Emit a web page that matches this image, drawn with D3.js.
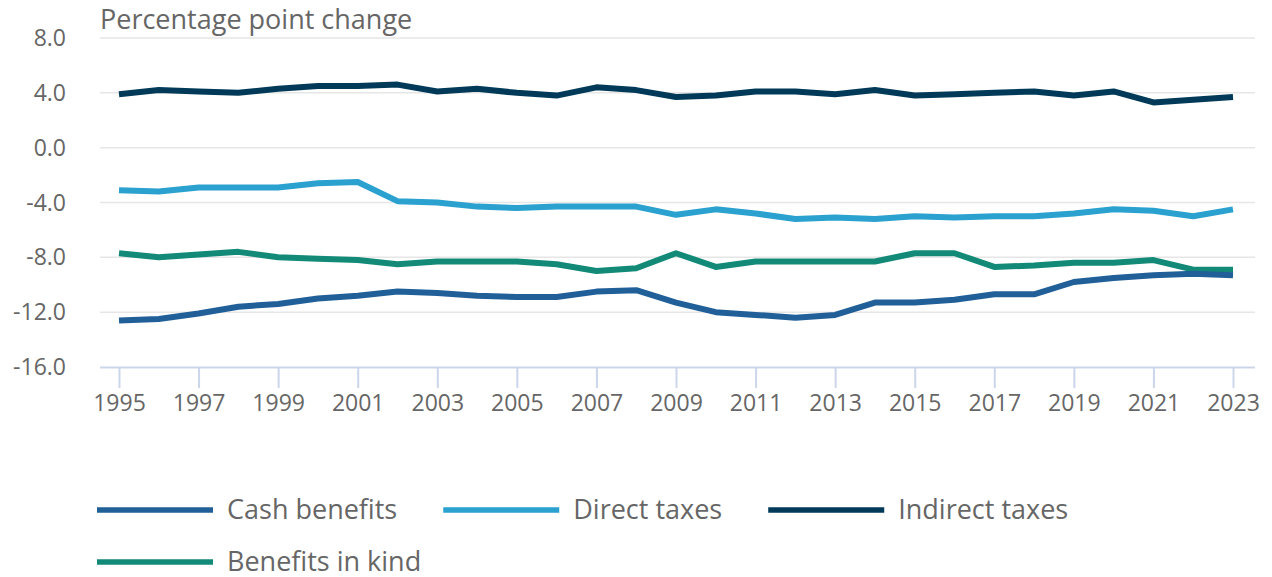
<!DOCTYPE html>
<html>
<head>
<meta charset="utf-8">
<script src="https://cdn.jsdelivr.net/npm/d3@7"></script>
<style>
  body { margin: 0; background: #fff; }
  text { font-family: "Open Sans", sans-serif; fill: #666; }
</style>
</head>
<body>
<div id="chart"></div>
<script>
const years = d3.range(1995, 2024);

const cashBenefits = [-12.6, -12.5, -12.1, -11.6, -11.4, -11.0, -10.8, -10.5, -10.6, -10.8,
  -10.9, -10.9, -10.5, -10.4, -11.3, -12.0, -12.2, -12.4, -12.2, -11.3,
  -11.3, -11.1, -10.7, -10.7, -9.8, -9.5, -9.3, -9.2, -9.3];
const directTaxes = [-3.1, -3.2, -2.9, -2.9, -2.9, -2.6, -2.5, -3.9, -4.0, -4.3,
  -4.4, -4.3, -4.3, -4.3, -4.9, -4.5, -4.8, -5.2, -5.1, -5.2,
  -5.0, -5.1, -5.0, -5.0, -4.8, -4.5, -4.6, -5.0, -4.5];
const indirectTaxes = [3.9, 4.2, 4.1, 4.0, 4.3, 4.5, 4.5, 4.6, 4.1, 4.3,
  4.0, 3.8, 4.4, 4.2, 3.7, 3.8, 4.1, 4.1, 3.9, 4.2,
  3.8, 3.9, 4.0, 4.1, 3.8, 4.1, 3.3, 3.5, 3.7];
const benefitsInKind = [-7.7, -8.0, -7.8, -7.6, -8.0, -8.1, -8.2, -8.5, -8.3, -8.3,
  -8.3, -8.5, -9.0, -8.8, -7.7, -8.7, -8.3, -8.3, -8.3, -8.3,
  -7.7, -7.7, -8.7, -8.6, -8.4, -8.4, -8.2, -8.9, -8.9];

const yTicks = [8, 4, 0, -4, -8, -12, -16];
const xTickYears = d3.range(1995, 2024, 2);

const series = [
  { name: "Cash benefits", values: cashBenefits, color: "#215f99" },
  { name: "Direct taxes", values: directTaxes, color: "#2aa1cf" },
  { name: "Indirect taxes", values: indirectTaxes, color: "#003a58" },
  { name: "Benefits in kind", values: benefitsInKind, color: "#128a77" }
];

const width = 1272, height = 577;
const plot = { left: 100, right: 1255, top: 38, bottom: 367 };

const svg = d3.select("#chart").append("svg")
    .attr("width", width)
    .attr("height", height);

const x = d3.scaleLinear()
    .domain([1995, 2023])
    .range([119, 1233]);

const y = d3.scaleLinear()
    .domain([-16, 8])
    .range([plot.bottom, plot.top]);

// gridlines
svg.append("g")
  .selectAll("line")
  .data(yTicks.filter(d => d !== -16))
  .join("line")
    .attr("x1", plot.left)
    .attr("x2", plot.right)
    .attr("y1", d => y(d))
    .attr("y2", d => y(d))
    .attr("stroke", "#e6e6e6")
    .attr("stroke-width", 1.5);

// y labels (plain hyphen for negatives, like the original)
svg.append("g")
  .selectAll("text")
  .data(yTicks)
  .join("text")
    .attr("x", 66)
    .attr("y", d => y(d) + 8)
    .attr("text-anchor", "end")
    .style("font-size", "23px")
    .text(d => d.toFixed(1));

// x axis
const xAxis = svg.append("g")
    .attr("transform", `translate(0,${plot.bottom})`)
    .call(d3.axisBottom(x)
      .tickValues(xTickYears)
      .tickFormat(d3.format("d"))
      .tickSize(21)
      .tickSizeOuter(0)
      .tickPadding(7));

xAxis.select(".domain")
    .attr("d", `M${plot.left},0.5H${plot.right}`)
    .attr("stroke", "#ccd6eb")
    .attr("stroke-width", 2);
xAxis.selectAll(".tick line")
    .attr("stroke", "#ccd6eb")
    .attr("stroke-width", 2);
xAxis.selectAll(".tick text")
    .attr("fill", "#666")
    .style("font-family", "'Open Sans', sans-serif")
    .style("font-size", "23px");

// title
svg.append("text")
    .attr("x", 100)
    .attr("y", 29)
    .style("font-size", "27px")
    .text("Percentage point change");

// lines
const line = d3.line()
    .x((d, i) => x(years[i]))
    .y(d => y(d));

// benefits in kind drawn under cash benefits at the right end
const drawOrder = [series[3], series[2], series[1], series[0]];
svg.append("g")
  .selectAll("path")
  .data(drawOrder)
  .join("path")
    .attr("d", d => line(d.values))
    .attr("fill", "none")
    .attr("stroke", d => d.color)
    .attr("stroke-width", 6)
    .attr("stroke-linejoin", "round");

// legend
const legendRows = [[series[0], series[1], series[2]], [series[3]]];
legendRows.forEach((row, r) => {
  let lx = 97;
  const ly = 510 + r * 52;
  row.forEach(s => {
    const g = svg.append("g").attr("transform", `translate(${lx},${ly})`);
    g.append("line")
        .attr("x1", 0).attr("x2", 116)
        .attr("y1", 0).attr("y2", 0)
        .attr("stroke", s.color)
        .attr("stroke-width", 5.5);
    const t = g.append("text")
        .attr("x", 130)
        .attr("y", 9)
        .style("font-size", "27px")
        .text(s.name);
    lx += 130 + t.node().getComputedTextLength() + 46;
  });
});
</script>
</body>
</html>
